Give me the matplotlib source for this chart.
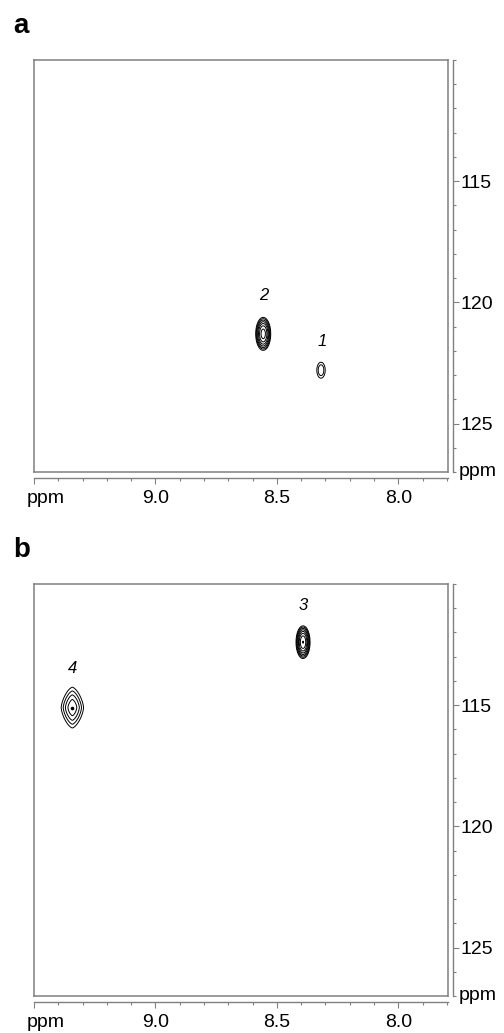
import numpy as np
import matplotlib
matplotlib.use("Agg")
import matplotlib.pyplot as plt
import matplotlib.transforms as mtransforms
from matplotlib.ticker import MultipleLocator, FixedLocator

plt.rcParams['font.family'] = ['Liberation Sans', 'DejaVu Sans']

# ---- data ----
panel_names = ['a', 'b']
# panel a peaks
a_labels = ['1', '2']
a_h = [8.318, 8.556]          # 1H ppm
a_n = [122.8, 121.3]          # 15N ppm
a_amp = [0.14, 0.33]
a_wh = [0.021, 0.020]         # width 1H
a_wn = [0.40, 0.44]           # width 15N
a_lab_h = [8.315, 8.555]
a_lab_n = [121.6, 119.7]
a_shape = ['g', 'g']
# panel b peaks
b_labels = ['3', '4']
b_h = [8.392, 9.342]
b_n = [112.4, 115.1]
b_amp = [0.36, 0.20]
b_wh = [0.018, 0.046]
b_wn = [0.42, 0.84]
b_lab_h = [8.392, 9.342]
b_lab_n = [110.9, 113.5]
b_shape = ['g', 'l']

x_ticks = [9.5, 9.0, 8.5, 8.0]
x_ticklabels = ['', '9.0', '8.5', '8.0']
y_ticks = [115, 120, 125]
y_ticklabels = ['115', '120', '125']
axis_unit = 'ppm'
xlim = (9.5, 7.795)
ylim = (127.0, 110.0)
levels = 0.1 * 1.2 ** np.arange(14)

W, H = 504, 1033
fig = plt.figure(figsize=(W / 100, H / 100), dpi=100)

grey = '#808080'
fs = 14

def spectrum(X, Y, hs, ns, amps, whs, wns, shapes):
    Z = np.zeros_like(X)
    for h, n, a, wh, wn, s in zip(hs, ns, amps, whs, wns, shapes):
        dx = (X - h) / wh
        dy = (Y - n) / wn
        if s == 'g':
            Z += a * np.exp(-0.5 * (dx ** 2 + dy ** 2))
        else:
            p = 1.5
            r = (np.abs(dx) ** p + np.abs(dy) ** p) ** (1 / p)
            Z += a / (1 + r ** 2)
    return Z

xs = np.linspace(7.79, 9.51, 1400)
ys = np.linspace(109.9, 127.1, 1200)
X, Y = np.meshgrid(xs, ys)

panels = [
    (a_labels, a_h, a_n, a_amp, a_wh, a_wn, a_lab_h, a_lab_n, a_shape),
    (b_labels, b_h, b_n, b_amp, b_wh, b_wn, b_lab_h, b_lab_n, b_shape),
]
tops = [60, 584]
ax_h = 412
left, right = 34, 448

spine_out = 4.3   # pt
tick_major = 4.5  # pt
xpad = 4          # pt
px = 100 / 72.0

for name, top, pdata in zip(panel_names, tops, panels):
    labels, hs, ns, amps, whs, wns, lh, ln, shapes = pdata
    rect = [left / W, 1 - (top + ax_h) / H, (right - left) / W, ax_h / H]
    ax = fig.add_axes(rect)
    Z = spectrum(X, Y, hs, ns, amps, whs, wns, shapes)
    ax.contour(X, Y, Z, levels=levels, colors='black', linewidths=0.7)
    for h, n, s in zip(hs, ns, shapes):
        if s == 'l':
            ax.plot([h], [n], 'o', color='black', ms=1.6)
    for t, h, n in zip(labels, lh, ln):
        ax.text(h, n, t, style='italic', fontsize=12, ha='center', va='center')
    ax.set_xlim(*xlim)
    ax.set_ylim(*ylim)
    ax.set_xticks([])
    ax.set_yticks([])
    for sp in ax.spines.values():
        sp.set_color(grey)
        sp.set_linewidth(1.1)

    ax2 = fig.add_axes(rect, frameon=True)
    ax2.patch.set_visible(False)
    ax2.set_xlim(*xlim)
    ax2.set_ylim(*ylim)
    for k in ['top', 'left']:
        ax2.spines[k].set_visible(False)
    ax2.spines['right'].set_position(('outward', 3.6))
    ax2.spines['bottom'].set_position(('outward', spine_out))
    for k in ['right', 'bottom']:
        ax2.spines[k].set_color(grey)
        ax2.spines[k].set_linewidth(1.0)
    ax2.yaxis.tick_right()
    ax2.xaxis.set_major_locator(FixedLocator(x_ticks))
    ax2.set_xticklabels(x_ticklabels)
    ax2.xaxis.set_minor_locator(MultipleLocator(0.1))
    ax2.yaxis.set_major_locator(FixedLocator(y_ticks))
    ax2.set_yticklabels(y_ticklabels)
    ax2.yaxis.set_minor_locator(MultipleLocator(1))
    ax2.tick_params(axis='both', which='major', length=tick_major, width=0.8,
                    color=grey, labelsize=fs, direction='out')
    ax2.tick_params(axis='both', which='minor', length=2.5, width=0.8,
                    color=grey, direction='out')
    ax2.tick_params(axis='y', which='major', pad=1)
    ax2.tick_params(axis='x', which='major', pad=xpad)
    # unit labels
    tr = mtransforms.offset_copy(ax2.transAxes, fig=fig, x=11, y=0, units='dots')
    ax2.text(1.0, 0.0, axis_unit, transform=tr, fontsize=fs,
             ha='left', va='center')
    ytop = top + ax_h + (spine_out + tick_major + xpad) * px
    fig.text(27 / W, 1 - ytop / H, axis_unit, fontsize=fs,
             ha='left', va='top')
    fig.text(13 / W, 1 - (top - 27) / H, name, fontsize=20, fontweight='bold',
             ha='left', va='baseline')

fig.savefig('out.png', dpi=100)
